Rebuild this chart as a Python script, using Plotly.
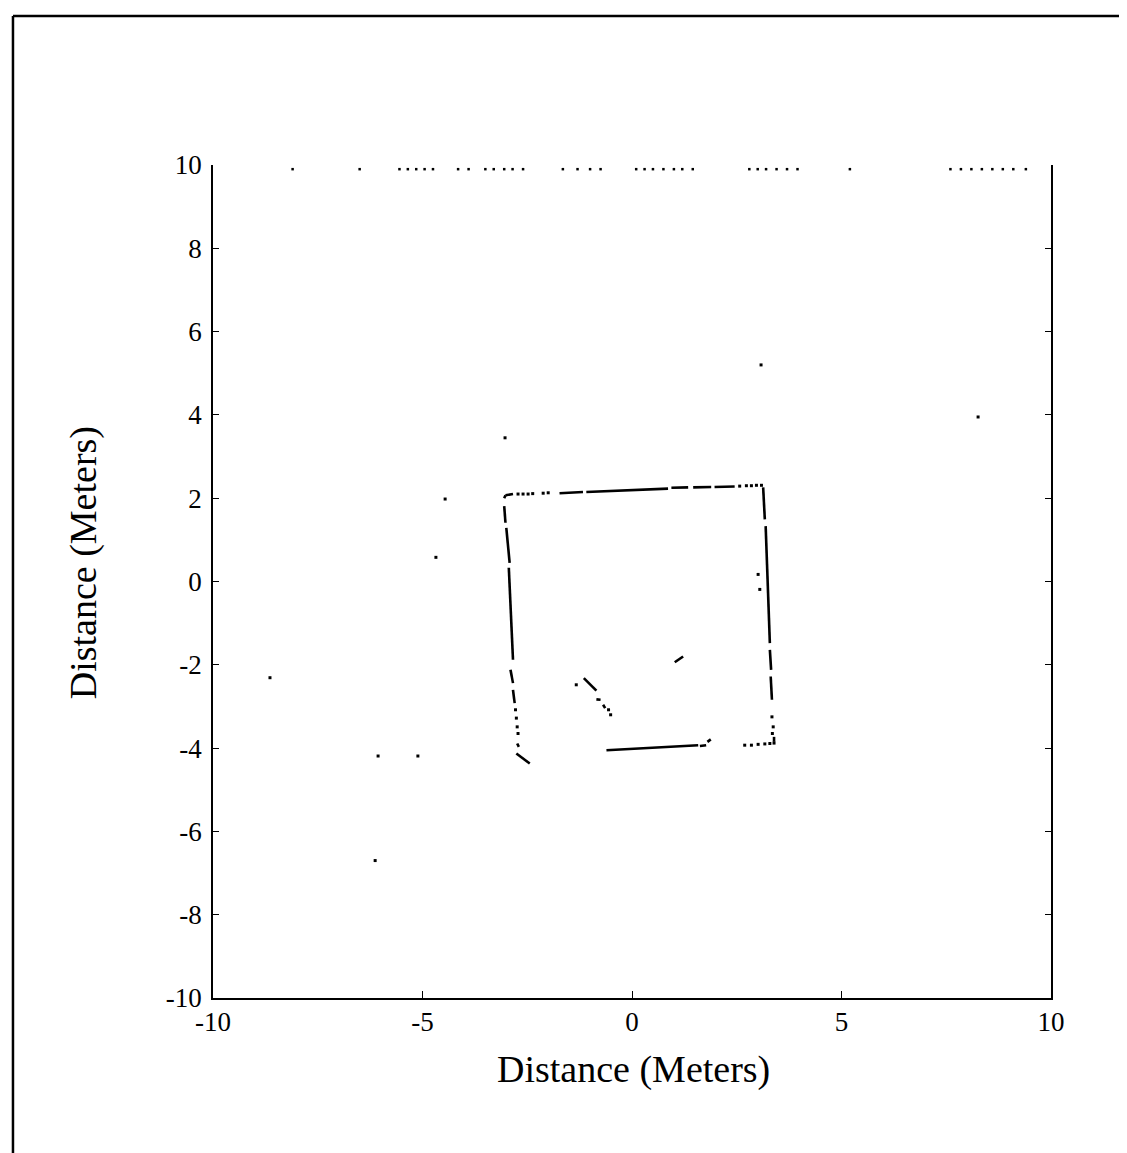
import plotly.graph_objects as go

# ---------------- data (meters) ----------------
# wall segments (solid/dashed strokes), each stroke is a pair of end points
seg_x = [
    # top wall
    [-3.05, -3.02], [-3.02, -2.84], [-1.73, -1.17], [-1.09, 0.86], [0.94, 1.34], [1.46, 1.89], [1.97, 2.45],
    # left wall
    [-3.05, -3.02], [-3.00, -2.92], [-2.94, -2.84], [-2.90, -2.84], [-2.84, -2.80], [-2.74, -2.70],
    [-2.76, -2.44],
    # right wall
    [3.13, 3.17], [3.19, 3.29], [3.29, 3.32], [3.31, 3.34], [3.39, 3.39],
    # bottom wall
    [-0.61, 1.58], [1.62, 1.77], [1.80, 1.88],
    # interior objects
    [1.02, 1.22], [-1.15, -0.85], [-0.85, -0.75], [-0.69, -0.64],
]
seg_y = [
    [2.00, 2.07], [2.07, 2.10], [2.12, 2.15], [2.15, 2.23], [2.25, 2.26], [2.26, 2.27], [2.27, 2.28],
    [1.81, 1.41], [1.29, 0.45], [0.33, -1.88], [-2.12, -2.44], [-2.60, -2.92], [-3.89, -3.97],
    [-4.13, -4.37],
    [2.26, 1.49], [1.33, -1.48], [-1.64, -2.12], [-2.28, -2.84], [-3.73, -3.85],
    [-4.05, -3.93], [-3.95, -3.93], [-3.85, -3.79],
    [-1.94, -1.80], [-2.32, -2.62], [-2.83, -2.84], [-2.96, -3.04],
]

# isolated range readings
dot_x = [-2.72, -2.60, -2.48, -2.37, -2.12, -2.00, 2.57, 2.73, 2.85, 2.97, 3.09,
         -2.78, -2.76, -2.74, -2.72,
         3.34, 3.37, 3.35,
         2.69, 2.85, 3.01, 3.17, 3.29, 3.39,
         -1.33, -0.56, -0.51, 3.01, 3.05,
         3.08, 8.26, -3.03, -4.46, -4.68, -8.64, -6.06, -5.11, -6.13]
dot_y = [2.10, 2.10, 2.10, 2.11, 2.12, 2.13, 2.29, 2.30, 2.30, 2.31, 2.31,
         -3.08, -3.28, -3.49, -3.65,
         -3.25, -3.49, -3.65,
         -3.93, -3.93, -3.91, -3.90, -3.89, -3.88,
         -2.48, -3.08, -3.20, 0.17, -0.19,
         5.20, 3.95, 3.45, 1.98, 0.58, -2.31, -4.19, -4.19, -6.70]

# sparse readings along the top boundary
top_x = [-8.1, -6.5, -5.55, -5.35, -5.15, -4.95, -4.75, -4.15, -3.9, -3.5, -3.3, -3.05, -2.85, -2.6,
         -1.65, -1.3, -1.0, -0.75, 0.1, 0.3, 0.5, 0.75, 1.0, 1.2, 1.45, 2.8, 3.0, 3.2, 3.45, 3.7, 3.95,
         5.2, 7.6, 7.85, 8.1, 8.35, 8.6, 8.85, 9.1, 9.4]
top_y = [9.9] * len(top_x)

x_ticks = [-10, -5, 0, 5, 10]
y_ticks = [-10, -8, -6, -4, -2, 0, 2, 4, 6, 8, 10]
x_tick_text = ["-10", "-5", "0", "5", "10"]
y_tick_text = ["-10", "-8", "-6", "-4", "-2", "0", "2", "4", "6", "8", "10"]

# ---------------- figure ----------------
lx, ly = [], []
for xs, ys in zip(seg_x, seg_y):
    lx += xs + [None]
    ly += ys + [None]

fig = go.Figure()
fig.add_trace(go.Scatter(x=lx, y=ly, mode="lines",
                         line=dict(color="black", width=2.6), hoverinfo="skip"))
fig.add_trace(go.Scatter(x=dot_x, y=dot_y, mode="markers",
                         marker=dict(color="black", size=3, symbol="square"), hoverinfo="skip"))
fig.add_trace(go.Scatter(x=top_x, y=top_y, mode="markers",
                         marker=dict(color="black", size=2.5, symbol="square"), hoverinfo="skip"))

font_family = "Liberation Serif, Times New Roman, serif"
fig.update_layout(
    width=1127, height=1153,
    margin=dict(l=205, r=84, t=157, b=163),
    paper_bgcolor="white", plot_bgcolor="white",
    showlegend=False,
    font=dict(family=font_family, color="black"),
    xaxis=dict(range=[-10, 10], tickvals=x_ticks, ticktext=x_tick_text,
               showgrid=False, zeroline=False, showline=True, linecolor="black", linewidth=1.5,
               mirror=False, ticks="inside", ticklen=7, tickcolor="black",
               tickfont=dict(size=27, family=font_family, color="black"),
               ticklabelstandoff=-1),
    yaxis=dict(range=[-10, 10], tickvals=y_ticks, ticktext=y_tick_text,
               showgrid=False, zeroline=False, showline=True, linecolor="black", linewidth=1.5,
               mirror="ticks", ticks="inside", ticklen=6, tickcolor="black",
               tickfont=dict(size=27, family=font_family, color="black"),
               ticklabelstandoff=4),
    annotations=[
        dict(text="Distance (Meters)", xref="paper", yref="paper", x=0.502, y=-0.0864,
             showarrow=False, font=dict(size=38, family=font_family, color="black"),
             xanchor="center", yanchor="middle"),
        dict(text="Distance (Meters)", xref="paper", yref="paper", x=-0.155, y=0.522,
             showarrow=False, textangle=-90, font=dict(size=38, family=font_family, color="black"),
             xanchor="center", yanchor="middle"),
    ],
    shapes=[
        dict(type="line", xref="paper", yref="paper", x0=-0.2387, x1=-0.2387, y0=1.1789, y1=-0.195,
             line=dict(color="black", width=2.5)),
        dict(type="line", xref="paper", yref="paper", x0=-0.2387, x1=1.10, y0=1.1789, y1=1.1789,
             line=dict(color="black", width=2.5)),
        dict(type="line", xref="paper", yref="paper", x0=1.0967, x1=1.0967, y0=0.17, y1=-0.13,
             line=dict(color="#888888", width=1.5)),
    ],
)

fig.write_html("out.html")
